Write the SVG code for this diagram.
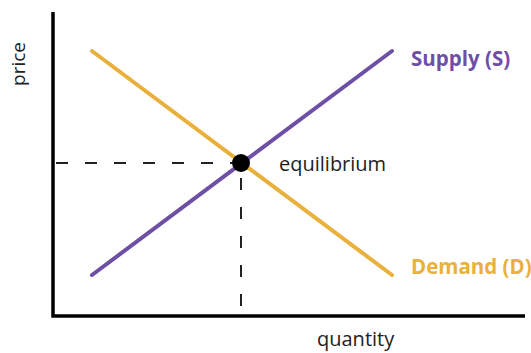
<svg xmlns="http://www.w3.org/2000/svg" width="531" height="353" viewBox="0 0 531 353">
<style>
.axis{stroke:#000;stroke-width:3.5;fill:none}
.dash{stroke:#222;stroke-width:2;stroke-dasharray:12 17;fill:none}
.lbl{font-family:"Open Sans","Noto Sans",sans-serif;font-size:20px;fill:#222}
.bold{font-family:"Open Sans","Noto Sans",sans-serif;font-size:20.5px;font-weight:bold}
</style>
<rect width="531" height="353" fill="#fff"/>
<g id="connectors">
<path class="dash" d="M56 163 H232"/>
<path class="dash" d="M241 178 V314"/>
<line id="demand-curve" x1="92" y1="51" x2="392" y2="275" stroke="#e9b03c" stroke-width="4" stroke-linecap="round"/>
<line id="supply-curve" x1="92" y1="275" x2="392" y2="51" stroke="#6e4fa6" stroke-width="4" stroke-linecap="round"/>
</g>
<g id="axes">
<path class="axis" d="M53 12 V316 H525"/>
</g>
<g id="equilibrium">
<circle cx="241" cy="163" r="9" fill="#000"/>
<text class="lbl" x="279" y="171">equilibrium</text>
</g>
<g id="supply"><text class="bold" x="411" y="66" fill="#6e4fa6">Supply (S)</text></g>
<g id="demand"><text class="bold" x="411" y="274" fill="#e9b03c">Demand (D)</text></g>
<g id="price"><text class="lbl" style="font-size:19px" transform="translate(25 64) rotate(-90)" text-anchor="middle">price</text></g>
<g id="quantity"><text class="lbl" x="317" y="346">quantity</text></g>
</svg>
